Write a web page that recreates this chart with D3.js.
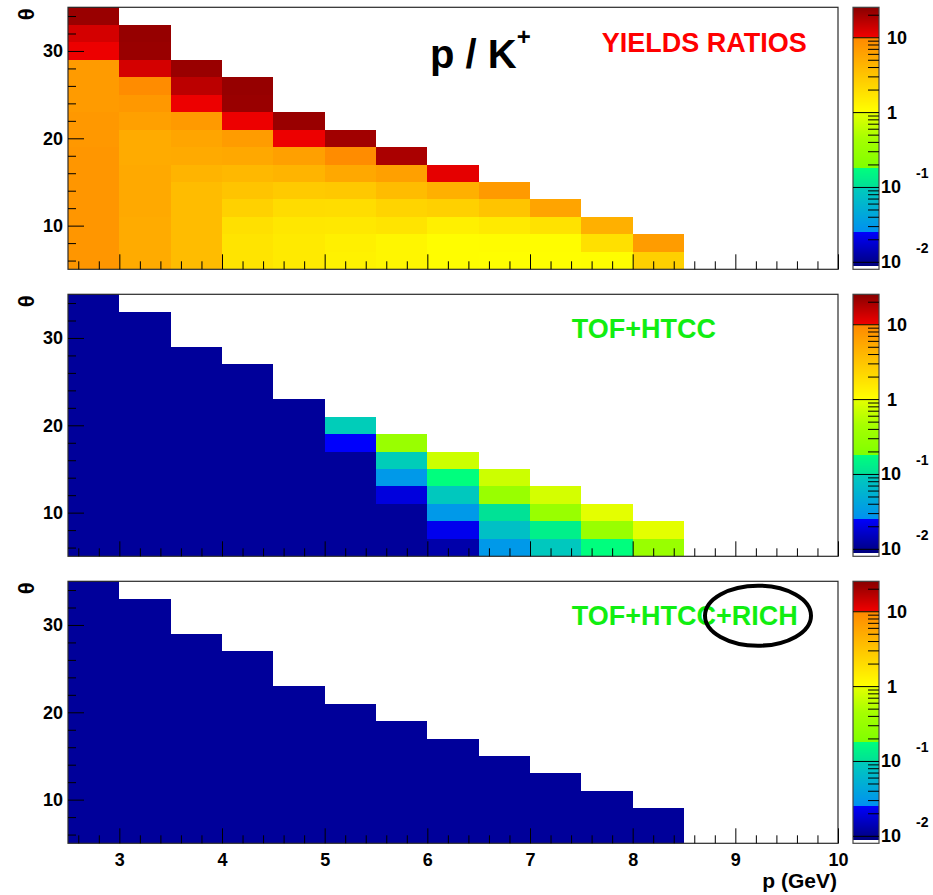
<!DOCTYPE html>
<html>
<head>
<meta charset="utf-8">
<script src="https://cdn.jsdelivr.net/npm/d3@7"></script>
<style>
  html, body { margin: 0; padding: 0; background: #fff; }
  svg { display: block; }
  text { font-family: "Liberation Sans", Arial, Helvetica, sans-serif; }
</style>
</head>
<body>
<svg id="chart" width="933" height="895"></svg>
<script>
// ---- binning -------------------------------------------------------------
// momentum bins (GeV): lower edges, all 0.5 GeV wide
const pBinLow = [2.5, 3.0, 3.5, 4.0, 4.5, 5.0, 5.5, 6.0, 6.5, 7.0, 7.5, 8.0, 8.5, 9.0, 9.5];
const pBinWidth = 0.5;
// polar angle bins (deg): lower edges, all 2 deg wide
const thetaBinLow = [5, 7, 9, 11, 13, 15, 17, 19, 21, 23, 25, 27, 29, 31, 33];
const thetaBinWidth = 2;

// ---- values: one column per momentum bin, from the lowest theta bin upward ----
// p / K+ yields ratio
const ratioYields = [
  [7.5, 7.5, 7.5, 7.5, 7.5, 7.5, 7.5, 7.2, 7.2, 6.8, 6.8, 6.8, 10.3, 12.8, 21.4],
  [5.0, 5.0, 5.0, 5.2, 5.2, 5.2, 5.0, 5.0, 6.2, 7.2, 9.1, 12.8, 21.4, 22.0],
  [3.6, 3.6, 3.6, 3.6, 3.6, 4.2, 5.1, 5.6, 6.9, 10.3, 15.9, 21.4],
  [1.68, 1.68, 1.8, 2.4, 3.1, 3.9, 5.3, 6.7, 10.3, 21.4, 22.0],
  [1.5, 1.5, 1.6, 1.96, 2.76, 4.2, 6.2, 10.3, 21.4],
  [1.28, 1.33, 1.55, 1.92, 2.9, 5.3, 9.1, 20.0],
  [1.19, 1.19, 1.68, 2.3, 3.6, 6.2, 18.5],
  [1.03, 1.03, 1.33, 2.46, 4.55, 11.0],
  [1.02, 1.05, 1.5, 3.1, 6.9],
  [1.01, 1.04, 1.74, 5.7],
  [1.04, 1.8, 4.55],
  [2.46, 6.7],
  [], [], []
];
// proton contamination left after TOF + HTCC selection
const contamTofHtcc = [
  [0.011, 0.011, 0.011, 0.011, 0.011, 0.011, 0.011, 0.011, 0.011, 0.011, 0.011, 0.011, 0.011, 0.011, 0.011],
  [0.011, 0.011, 0.011, 0.011, 0.011, 0.011, 0.011, 0.011, 0.011, 0.011, 0.011, 0.011, 0.011, 0.011],
  [0.011, 0.011, 0.011, 0.011, 0.011, 0.011, 0.011, 0.011, 0.011, 0.011, 0.011, 0.011],
  [0.011, 0.011, 0.011, 0.011, 0.011, 0.011, 0.011, 0.011, 0.011, 0.011, 0.011],
  [0.011, 0.011, 0.011, 0.011, 0.011, 0.011, 0.011, 0.011, 0.011],
  [0.011, 0.011, 0.011, 0.011, 0.011, 0.011, 0.0245, 0.099],
  [0.011, 0.011, 0.011, 0.019, 0.030, 0.099, 0.33],
  [0.0126, 0.0219, 0.030, 0.089, 0.174, 0.72],
  [0.030, 0.074, 0.101, 0.33, 0.72],
  [0.089, 0.133, 0.33, 0.79],
  [0.174, 0.33, 0.97],
  [0.33, 0.98],
  [], [], []
];
// proton contamination left after TOF + HTCC + RICH selection
const contamTofHtccRich = [
  [0.011, 0.011, 0.011, 0.011, 0.011, 0.011, 0.011, 0.011, 0.011, 0.011, 0.011, 0.011, 0.011, 0.011, 0.011],
  [0.011, 0.011, 0.011, 0.011, 0.011, 0.011, 0.011, 0.011, 0.011, 0.011, 0.011, 0.011, 0.011, 0.011],
  [0.011, 0.011, 0.011, 0.011, 0.011, 0.011, 0.011, 0.011, 0.011, 0.011, 0.011, 0.011],
  [0.011, 0.011, 0.011, 0.011, 0.011, 0.011, 0.011, 0.011, 0.011, 0.011, 0.011],
  [0.011, 0.011, 0.011, 0.011, 0.011, 0.011, 0.011, 0.011, 0.011],
  [0.011, 0.011, 0.011, 0.011, 0.011, 0.011, 0.011, 0.011],
  [0.011, 0.011, 0.011, 0.011, 0.011, 0.011, 0.011],
  [0.011, 0.011, 0.011, 0.011, 0.011, 0.011],
  [0.011, 0.011, 0.011, 0.011, 0.011],
  [0.011, 0.011, 0.011, 0.011],
  [0.011, 0.011, 0.011],
  [0.011, 0.011],
  [], [], []
];

// ---- axis ticks and labels ----
const pTicks = [3, 4, 5, 6, 7, 8, 9, 10];
const thetaTicks = [10, 20, 30];
const zMajorTicks = [0.01, 0.1, 1, 10];
const zMajorBase = ["10", "10", "1", "10"];
const zMajorExp = ["-2", "-1", "", ""];
const panelLabels = ["YIELDS RATIOS", "TOF+HTCC", "TOF+HTCC+RICH"];

// ---- layout ----
const FONT = '"Liberation Sans", Arial, Helvetica, sans-serif';
const frameLeft = 68, frameRight = 838, panelH = 262;
const panelTops = [7.3, 294.3, 581.3];
const barLeft = 853, barRight = 879;
const logMin = -2.1, logMax = 1.4;

const svg = d3.select("#chart");

// momentum axis is shared by all panels
const x = d3.scaleLinear().domain([2.5, 10]).range([frameLeft, frameRight]);

// colour palette on log10(z): blue -> cyan -> green -> yellow -> orange -> red
const palette = d3.scaleLinear()
  .domain([-2.06, -1.6, -1.6, -1.0, -1.0, -0.75, -0.75, -0.36, 0, 0, 1, 1, 1.4])
  .range(["#00007d", "#0000ff", "#0091f0", "#00cdb9", "#00e196", "#00ff7d",
          "#80ff00", "#a5ff00", "#e6ff00", "#ffff00", "#ff8700", "#f00000", "#870000"])
  .interpolate(d3.interpolateRgb)
  .clamp(true);
function colourOf(v) {
  const l = Math.log10(v);
  if (l < -2.06) return "#ffffff";
  return palette(Math.min(l, logMax));
}

const panels = [
  { data: ratioYields, label: panelLabels[0], colour: "#ff0000", lx: 601.7, ly: 51.7 },
  { data: contamTofHtcc, label: panelLabels[1], colour: "#11ee11", lx: 571.7, ly: 338.3 },
  { data: contamTofHtccRich, label: panelLabels[2], colour: "#11ee11", lx: 571.7, ly: 625.0 }
];

const thetaMinor = d3.range(6, 35, 2).filter(v => v % 10 !== 0);
const pMinor = d3.range(26, 100, 2).map(v => v / 10).filter(v => Math.abs(v - Math.round(v)) > 1e-6);
const zMinor = [];
[0.01, 0.1, 1, 10].forEach(dec => { for (let k = 2; k <= 9; k++) { const v = +(k * dec).toPrecision(3); if (Math.log10(v) < logMax) zMinor.push(v); } });

function styleAxis(sel, size, weight) {
  sel.select(".domain").remove();
  sel.attr("font-family", FONT).attr("font-size", size).attr("font-weight", weight);
  sel.selectAll("line").attr("stroke", "#000").attr("stroke-width", 1);
  sel.selectAll("text").attr("fill", "#000");
}

panels.forEach((pn, i) => {
  const top = panelTops[i];
  const bottom = top + panelH;
  const y = d3.scaleLinear().domain([5, 35]).range([bottom, top]);
  const g = svg.append("g").attr("class", "panel");

  // histogram cells
  const cells = [];
  pn.data.forEach((col, ci) => col.forEach((v, ri) => cells.push({ p: pBinLow[ci], t: thetaBinLow[ri], v })));
  g.append("g").selectAll("rect").data(cells).join("rect")
    .attr("x", d => x(d.p))
    .attr("width", d => x(d.p + pBinWidth) - x(d.p))
    .attr("y", d => y(d.t + thetaBinWidth))
    .attr("height", d => y(d.t) - y(d.t + thetaBinWidth))
    .attr("fill", d => colourOf(d.v))
    .attr("shape-rendering", "crispEdges");

  // frame
  g.append("rect")
    .attr("x", frameLeft).attr("y", top)
    .attr("width", frameRight - frameLeft).attr("height", panelH)
    .attr("fill", "none").attr("stroke", "#2a2a2a").attr("stroke-width", 1.2);

  // theta axis (ticks point into the frame)
  g.append("g").attr("transform", `translate(${frameLeft},0)`)
    .call(d3.axisLeft(y).tickValues(thetaTicks).tickSize(-16).tickPadding(5).tickFormat(d3.format("d")))
    .call(a => styleAxis(a, 18, "bold"));
  g.append("g").attr("transform", `translate(${frameLeft},0)`)
    .call(d3.axisLeft(y).tickValues(thetaMinor).tickSize(-8).tickFormat(""))
    .call(a => styleAxis(a, 18, "bold"));

  // momentum axis
  const isLast = i === panels.length - 1;
  g.append("g").attr("transform", `translate(0,${bottom})`)
    .call(d3.axisBottom(x).tickValues(pTicks).tickSize(-15).tickPadding(10)
      .tickFormat(isLast ? d3.format("d") : () => ""))
    .call(a => styleAxis(a, 18, "bold"));
  g.append("g").attr("transform", `translate(0,${bottom})`)
    .call(d3.axisBottom(x).tickValues(pMinor).tickSize(-8).tickFormat(""))
    .call(a => styleAxis(a, 18, "bold"));

  // theta axis title
  g.append("text")
    .attr("transform", `translate(26.5,${top + 7}) rotate(-90)`)
    .attr("text-anchor", "middle").attr("dy", "0.35em")
    .attr("font-family", FONT).attr("font-size", 22).attr("font-weight", "bold")
    .text("θ");

  // colour bar
  const zBar = d3.scaleLog().domain([10 ** logMin, 10 ** logMax]).range([bottom, top]);
  const rows = d3.range(0, panelH);
  g.append("g").selectAll("rect").data(rows).join("rect")
    .attr("x", barLeft).attr("width", barRight - barLeft)
    .attr("y", k => top + k).attr("height", 1.2)
    .attr("fill", k => colourOf(10 ** (logMax - (k + 0.5) / panelH * (logMax - logMin))))
    .attr("shape-rendering", "crispEdges");
  g.append("rect")
    .attr("x", barLeft).attr("y", top)
    .attr("width", barRight - barLeft).attr("height", panelH)
    .attr("fill", "none").attr("stroke", "#444").attr("stroke-width", 1.2);
  g.append("g").attr("transform", `translate(${barRight},0)`)
    .call(d3.axisRight(zBar).tickValues(zMajorTicks).tickSize(-(barRight - barLeft)).tickFormat(""))
    .call(a => styleAxis(a, 18, "bold"));
  g.append("g").attr("transform", `translate(${barRight},0)`)
    .call(d3.axisRight(zBar).tickValues(zMinor).tickSize(-11).tickFormat(""))
    .call(a => styleAxis(a, 18, "bold"));

  // colour bar labels, exponent set apart to the upper right
  zMajorTicks.forEach((v, k) => {
    const yy = zBar(v);
    const hasExp = zMajorExp[k] !== "";
    g.append("text")
      .attr("x", hasExp ? 881 : 887).attr("y", yy).attr("dy", "0.36em")
      .attr("font-family", FONT).attr("font-size", 18).attr("font-weight", "bold")
      .text(zMajorBase[k]);
    if (hasExp) {
      g.append("text")
        .attr("x", 916).attr("y", yy - 14).attr("dy", "0.36em")
        .attr("font-family", FONT).attr("font-size", 14).attr("font-weight", "bold")
        .text(zMajorExp[k]);
    }
  });

  // panel label
  g.append("text")
    .attr("x", pn.lx).attr("y", pn.ly)
    .attr("font-family", FONT).attr("font-size", 27).attr("font-weight", "bold")
    .attr("fill", pn.colour)
    .text(pn.label);
});

// ratio label in the first panel
const ratioText = svg.append("text")
  .attr("x", 430).attr("y", 68)
  .attr("font-family", FONT).attr("font-size", 40).attr("font-weight", "bold").attr("fill", "#000");
ratioText.append("tspan").text("p / K");
ratioText.append("tspan").attr("dy", -23).attr("font-size", 24).text("+");

// circle drawn round the RICH part of the last label
svg.append("ellipse")
  .attr("cx", 758).attr("cy", 615.7).attr("rx", 53).attr("ry", 30)
  .attr("fill", "none").attr("stroke", "#000").attr("stroke-width", 4);

// momentum axis title
svg.append("text")
  .attr("x", 837).attr("y", 888).attr("text-anchor", "end")
  .attr("font-family", FONT).attr("font-size", 21).attr("font-weight", "bold")
  .text("p (GeV)");
</script>
</body>
</html>
